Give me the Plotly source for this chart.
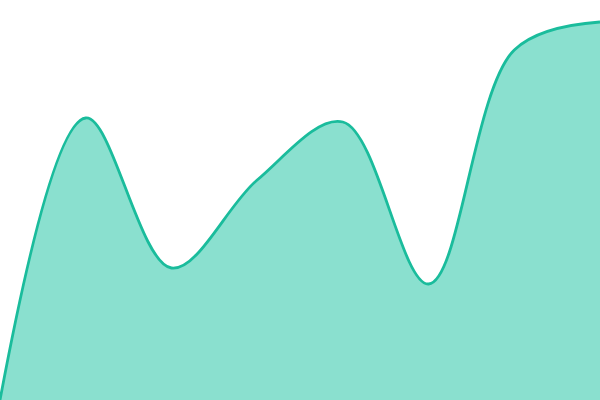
import plotly.graph_objects as go

# points along the x axis, evenly spaced
steps = [0, 1, 2, 3, 4, 5, 6, 7]
values = [0, 70.5, 33, 55, 69.5, 29, 87.5, 94.5]

line_color = "#1abc9c"
fill_color = "#8ae0cf"

fig = go.Figure(
    go.Scatter(
        x=steps,
        y=values,
        mode="lines",
        line=dict(color=line_color, width=2.8, shape="spline", smoothing=1),
        fill="tozeroy",
        fillcolor=fill_color,
        hoverinfo="skip",
    )
)

fig.update_layout(
    width=600,
    height=400,
    margin=dict(l=0, r=0, t=0, b=0),
    paper_bgcolor="white",
    plot_bgcolor="white",
    showlegend=False,
)
fig.update_xaxes(visible=False, range=[0, 7])
fig.update_yaxes(visible=False, range=[0, 100])

# drop the default body margin so the chart sits flush in the window
fig.write_html(
    "out.html",
    config={"displayModeBar": False},
    post_script="document.body.style.margin = '0';",
)
